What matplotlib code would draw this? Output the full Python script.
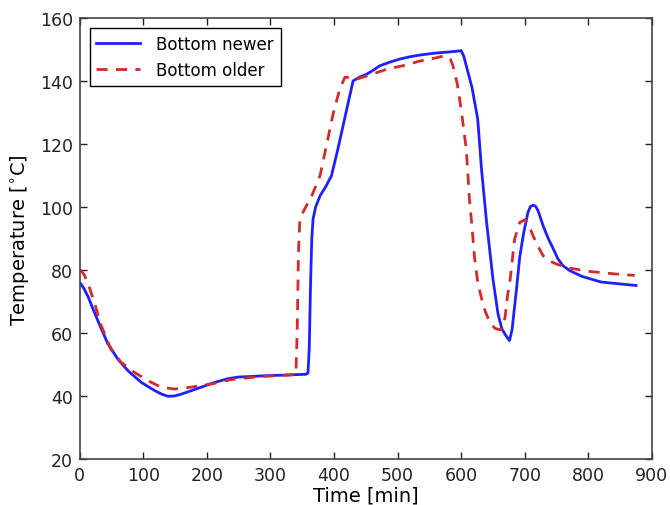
import numpy as np
import matplotlib
matplotlib.use("Agg")
import matplotlib.pyplot as plt

# Bottom newer (solid blue)
t_newer = [0, 2, 7, 13, 23, 34, 44, 60, 76, 97, 118, 130, 139, 149, 160, 170,
           191, 212, 233, 249, 288, 330, 356, 359, 361, 363, 365, 367, 371,
           378, 387, 396, 406, 420, 430, 440, 451, 461, 472, 487, 503, 520,
           535, 558, 582, 597, 600, 604, 608, 617, 626, 632, 640, 650, 658,
           664, 670, 676, 680, 687, 692, 698, 705, 709, 713, 717, 721, 729,
           737, 745, 752, 760, 771, 790, 820, 850, 875]
T_newer = [76.0, 75.6, 74.0, 71.6, 66.6, 61.3, 56.7, 51.7, 48.0, 44.3, 41.7,
           40.5, 39.9, 40.0, 40.6, 41.3, 42.8, 44.3, 45.5, 46.0, 46.4, 46.7,
           46.9, 47.3, 55.0, 75.0, 90.0, 96.2, 100.0, 103.6, 106.5, 110.0,
           118.4, 131.1, 140.1, 141.3, 142.2, 143.4, 144.9, 146.0, 147.0,
           147.8, 148.3, 148.9, 149.3, 149.6, 149.7, 148.0, 144.9, 138.0,
           128.0, 112.0, 95.1, 77.1, 66.0, 61.3, 59.3, 57.6, 61.0, 74.0,
           84.0, 91.5, 98.3, 100.2, 100.6, 100.3, 98.8, 94.0, 90.0, 86.7,
           83.6, 81.4, 79.8, 78.0, 76.2, 75.6, 75.1]

# Bottom older (dashed red)
t_older = [0, 2, 7, 13, 23, 34, 49, 65, 86, 107, 128, 149, 175, 207, 238,
           280, 330, 340, 342, 344, 346, 351, 358, 365, 378, 388, 399, 409,
           417, 425, 435, 455, 483, 510, 535, 560, 572, 579, 583, 587, 594,
           600, 608, 613, 616, 621, 626, 632, 638, 645, 653, 661, 665, 669,
           673, 677, 684, 692, 700, 706, 713, 721, 729, 740, 750, 766, 800,
           840, 873]
T_older = [80.0, 79.8, 78.5, 75.8, 69.7, 62.3, 54.9, 50.7, 47.5, 44.9, 42.8,
           42.2, 42.8, 43.8, 45.2, 46.1, 46.7, 46.8, 60.0, 85.0, 95.0, 98.3,
           101.0, 103.6, 110.0, 119.5, 130.0, 137.5, 141.2, 141.2, 140.6,
           141.9, 143.8, 145.0, 146.4, 147.4, 148.0, 147.8, 147.0, 144.9,
           139.0, 131.0, 118.4, 102.5, 96.0, 84.0, 76.2, 71.0, 66.8, 63.4,
           61.5, 61.0, 62.0, 65.0, 72.0, 77.0, 89.8, 95.1, 96.0, 94.5, 90.9,
           87.5, 84.5, 82.8, 81.9, 80.8, 79.6, 78.8, 78.3]

xticks = [0, 100, 200, 300, 400, 500, 600, 700, 800, 900]
yticks = [20, 40, 60, 80, 100, 120, 140, 160]

plt.rcParams['font.family'] = 'DejaVu Sans'
plt.rcParams['xtick.direction'] = 'in'
plt.rcParams['ytick.direction'] = 'in'
plt.rcParams['xtick.top'] = True
plt.rcParams['ytick.right'] = True

fig = plt.figure(figsize=(6.7, 5.06), dpi=100)
ax = fig.add_axes([0.119, 0.091, 0.854, 0.871])

ax.plot(t_newer, T_newer, color='#1f1fff', lw=2, label='Bottom newer')
ax.plot(t_older, T_older, color='#d42a2a', lw=2, ls='--', dashes=(4, 3),
        label='Bottom older')

ax.set_xlim(0, 900)
ax.set_ylim(20, 160)
ax.set_xticks(xticks)
ax.set_yticks(yticks)
ax.tick_params(labelsize=12.5, length=5, width=1, colors='#222222', pad=5)
for s in ax.spines.values():
    s.set_color('#444444')
    s.set_linewidth(1.2)

ax.set_xlabel('Time [min]', fontsize=14, labelpad=1)
ax.set_ylabel('Temperature [$^{\\circ}$C]', fontsize=14, labelpad=6)

leg = ax.legend(loc='upper left', fontsize=12, fancybox=False, framealpha=1,
                edgecolor='black', borderaxespad=0.6, handlelength=2.6,
                handletextpad=1.0)
leg.get_frame().set_linewidth(1)

fig.savefig('out.png', dpi=100, facecolor='white')
